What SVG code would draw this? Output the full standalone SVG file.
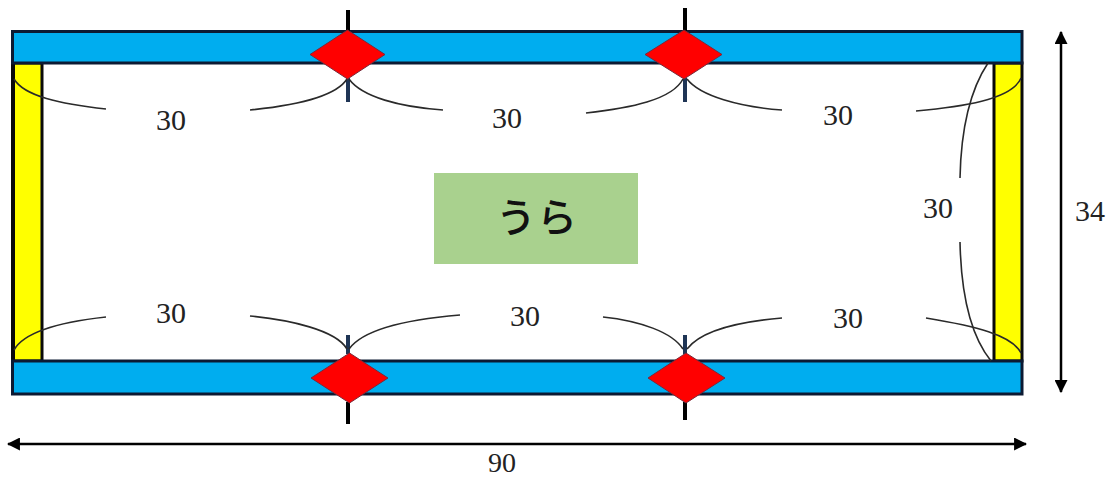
<svg xmlns="http://www.w3.org/2000/svg" width="1110" height="479" viewBox="0 0 1110 479">
<style>
.bar{fill:#00adef;stroke:#0c1a33;stroke-width:3}
.post{fill:#ffff00;stroke:#0a0a0a;stroke-width:3}
.dia{fill:#ff0000;stroke:#7a2a3a;stroke-width:1}
.tick{stroke:#000;stroke-width:4;fill:none}
.tickn{stroke:#1f3555;stroke-width:4;fill:none}
.arc{fill:none;stroke:#2a2a2a;stroke-width:1.6}
.dim{fill:none;stroke:#000;stroke-width:2.5;marker-start:url(#a);marker-end:url(#a)}
text{font-family:"Liberation Serif","Noto Sans CJK JP",serif;font-size:30px;fill:#222;text-anchor:middle}
.jp{font-family:"Noto Sans CJK JP","Noto Sans",sans-serif;font-size:40px;font-weight:500;letter-spacing:1px;fill:#111}
.low{font-size:28px}
</style>
<defs>
<marker id="a" viewBox="0 0 12 12" refX="11" refY="6" markerUnits="userSpaceOnUse" markerWidth="13" markerHeight="13" orient="auto-start-reverse"><path d="M0 0L12 6L0 12Z" fill="#000"/></marker>
</defs>
<rect width="1110" height="479" fill="#fff"/>
<g id="frame">
<rect class="post" x="13" y="63" width="29" height="298"/>
<rect class="post" x="994" y="63" width="28" height="298"/>
<path d="M13 63V361" stroke="#0a0a0a" stroke-width="4" fill="none"/>
<rect class="bar" x="12.500" y="31.500" width="1009.500" height="31.500"/>
<rect class="bar" x="12.500" y="361" width="1009.500" height="33"/>
</g>
<g id="connectors">
<path class="tick" d="M348 10V32M685 8V32M348 402V424M685 402V420"/>
<path class="tickn" d="M348 78V102M685 78V102M348 335V354M685 335V354"/>
<path class="arc" d="M14 79C24 96 60 104 106 109M250 110C290 106 335 98 347 79M349 79C362 97 400 107 443 110M586 113C630 108 672 100 683 79M687 79C700 96 740 107 782 110M916 111C960 107 1012 100 1021 78"/>
<path class="arc" d="M14 350C24 332 60 322 106 317M250 316C290 320 336 330 347 349M349 349C362 331 400 320 460 315M603 317C640 321 672 332 683 349M687 349C700 332 735 322 782 318M926 318C975 326 1012 335 1021 353"/>
<path class="arc" d="M988 63C970 90 961 130 960 178M960 242C961 290 970 335 991 361"/>
<path class="dim" d="M1061 32V392"/>
<path class="dim" d="M8 444H1026"/>
</g>
<g id="joint-top-1"><path class="dia" d="M347.500 30L385 54.500L347.500 79L310 54.500Z"/></g>
<g id="joint-top-2"><path class="dia" d="M684 30L722 54.500L684 79L645 54.500Z"/></g>
<g id="joint-bottom-1"><path class="dia" d="M349.500 353L388 378L349.500 403L311 378Z"/></g>
<g id="joint-bottom-2"><path class="dia" d="M686 353L725 378L686 403L648 378Z"/></g>
<g id="label-ura"><rect x="434" y="173" width="204" height="91" fill="#a9d18e"/><text class="jp" x="537" y="232">うら</text></g>
<g id="labels">
<text x="171" y="130">30</text><text x="507" y="128">30</text><text x="838" y="125">30</text>
<text x="171" y="323">30</text><text x="525" y="326">30</text><text x="848" y="328">30</text>
<text x="938" y="218">30</text><text x="1090" y="221">34</text><text class="low" x="502" y="472">90</text>
</g>
</svg>
